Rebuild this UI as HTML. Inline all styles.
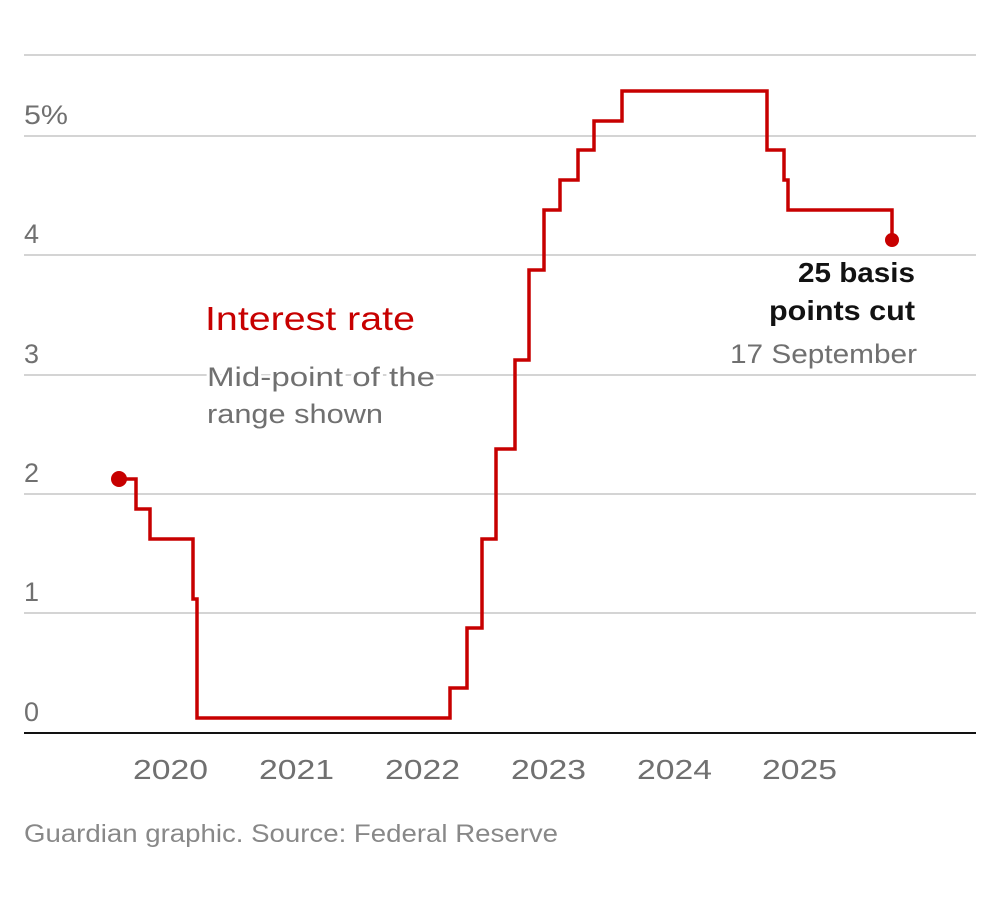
<!DOCTYPE html>
<html><head><style>
body{margin:0;background:#fff;}
svg text{font-family:"Liberation Sans",sans-serif;}
</style></head><body>
<svg width="1000" height="896" viewBox="0 0 1000 896">
<g stroke="#d4d4d4" stroke-width="2">
<line x1="24" x2="976" y1="55" y2="55"/>
<line x1="24" x2="976" y1="136" y2="136"/>
<line x1="24" x2="976" y1="255" y2="255"/>
<line x1="24" x2="976" y1="375" y2="375"/>
<line x1="24" x2="976" y1="494" y2="494"/>
<line x1="24" x2="976" y1="613" y2="613"/>
</g>
<g fill="#707070" font-size="27">
<text x="24" y="124" textLength="44" lengthAdjust="spacingAndGlyphs">5%</text>
<text x="24" y="243">4</text>
<text x="24" y="363">3</text>
<text x="24" y="482">2</text>
<text x="24" y="601">1</text>
<text x="24" y="721">0</text>
</g>
<line x1="24" x2="976" y1="733" y2="733" stroke="#121212" stroke-width="2"/>
<g fill="#707070" font-size="28">
<text x="133" y="779" textLength="75" lengthAdjust="spacingAndGlyphs">2020</text>
<text x="259" y="779" textLength="75" lengthAdjust="spacingAndGlyphs">2021</text>
<text x="385" y="779" textLength="75" lengthAdjust="spacingAndGlyphs">2022</text>
<text x="511" y="779" textLength="75" lengthAdjust="spacingAndGlyphs">2023</text>
<text x="637" y="779" textLength="75" lengthAdjust="spacingAndGlyphs">2024</text>
<text x="762" y="779" textLength="75" lengthAdjust="spacingAndGlyphs">2025</text>
</g>
<polyline fill="none" stroke="#c70000" stroke-width="3.5" points="119,479 136,479 136,509 150,509 150,539 193,539 193,599 197,599 197,718 450,718 450,688 467,688 467,628 482,628 482,539 496,539 496,449 515,449 515,360 529,360 529,270 544,270 544,210 560,210 560,180 578,180 578,150 594,150 594,121 622,121 622,91 767,91 767,150 784,150 784,180 788,180 788,210 892,210 892,240"/>
<circle cx="119" cy="479" r="8" fill="#c70000"/>
<circle cx="892" cy="240" r="7" fill="#c70000"/>
<text x="205" y="330" fill="#c70000" font-size="33" textLength="210" lengthAdjust="spacingAndGlyphs">Interest rate</text>
<g font-size="27" fill="#707070" stroke="#fff" stroke-width="5" paint-order="stroke">
<text x="207" y="386" textLength="228" lengthAdjust="spacingAndGlyphs">Mid-point of the</text>
<text x="207" y="423" textLength="176" lengthAdjust="spacingAndGlyphs">range shown</text>
</g>
<g font-size="28" fill="#121212" font-weight="bold">
<text x="798" y="282" textLength="117" lengthAdjust="spacingAndGlyphs">25 basis</text>
<text x="769" y="320" textLength="146" lengthAdjust="spacingAndGlyphs">points cut</text>
</g>
<text x="730" y="363" font-size="27" fill="#707070" textLength="187" lengthAdjust="spacingAndGlyphs">17 September</text>
<text x="24" y="842" font-size="25" fill="#888" textLength="534" lengthAdjust="spacingAndGlyphs">Guardian graphic. Source: Federal Reserve</text>
</svg>
</body></html>
